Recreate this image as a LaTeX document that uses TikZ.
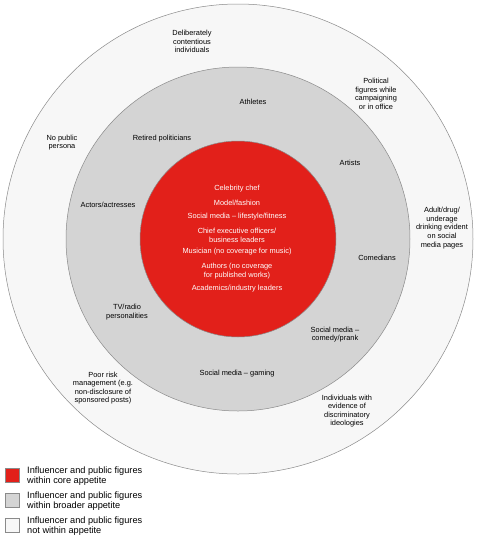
\documentclass[tikz,border=0pt]{standalone}
\usepackage{fontspec}
\setmainfont{Liberation Sans}
\definecolor{corered}{HTML}{E2201A}
\definecolor{broadgrey}{HTML}{D4D4D4}
\definecolor{outerwhite}{HTML}{F7F7F7}
\definecolor{ringline}{HTML}{8A8A8A}
\begin{document}
\begin{tikzpicture}[x=1pt,y=-1pt,
  ring/.style={draw=ringline,line width=0.5pt},
  lab/.style={align=center,font=\fontsize{7.4}{8.6}\selectfont,inner sep=0pt},
  corelab/.style={lab,text=white},
  keybox/.style={draw=ringline,line width=0.5pt,minimum size=14pt,inner sep=0pt},
  keytext/.style={align=left,anchor=west,font=\fontsize{9.2}{10.2}\selectfont,inner sep=0pt}]
  \useasboundingbox (0,0) rectangle (479,539);
  \coordinate (centre) at (238,239);
  % three appetite rings
  \filldraw[ring,fill=outerwhite] (centre) circle[radius=235];
  \filldraw[ring,fill=broadgrey] (centre) circle[radius=172];
  \filldraw[ring,fill=corered] (centre) circle[radius=98];
  % core appetite
  \node[corelab] (chef) at (237,189) {Celebrity chef};
  \node[corelab] (model) at (237,203) {Model/fashion};
  \node[corelab] (lifestyle) at (237,217) {Social media -- lifestyle/fitness};
  \node[corelab] (ceo) at (237,235.5) {Chief executive officers/\\business leaders};
  \node[corelab] (musician) at (237,252) {Musician (no coverage for music)};
  \node[corelab] (authors) at (237,271) {Authors (no coverage\\for published works)};
  \node[corelab] (academics) at (237,289) {Academics/industry leaders};
  % broader appetite
  \node[lab] (athletes) at (253,102) {Athletes};
  \node[lab] (retired) at (162,139) {Retired politicians};
  \node[lab] (artists) at (350,163) {Artists};
  \node[lab] (actors) at (108,205) {Actors/actresses};
  \node[lab] (comedians) at (377,258) {Comedians};
  \node[lab] (tvradio) at (127,312) {TV/radio\\personalities};
  \node[lab] (prank) at (335,334.5) {Social media --\\comedy/prank};
  \node[lab] (gaming) at (237,374) {Social media -- gaming};
  % not within appetite
  \node[lab] (contentious) at (192,41.5) {Deliberately\\contentious\\individuals};
  \node[lab] (political) at (376,94) {Political\\figures while\\campaigning\\or in office};
  \node[lab] (persona) at (62,142.5) {No public\\persona};
  \node[lab] (drinking) at (442,228) {Adult/drug/\\underage\\drinking evident\\on social\\media pages};
  \node[lab] (risk) at (103,388) {Poor risk\\management (e.g.\\non-disclosure of\\sponsored posts)};
  \node[lab] (ideologies) at (347,411) {Individuals with\\evidence of\\discriminatory\\ideologies};
  % legend
  \node[keybox,fill=corered] (keycore) at (12,475.5) {};
  \node[keybox,fill=broadgrey] (keybroad) at (12,500.5) {};
  \node[keybox,fill=outerwhite] (keynot) at (12,525.5) {};
  \node[keytext] at (27,476) {Influencer and public figures\\within core appetite};
  \node[keytext] at (27,501) {Influencer and public figures\\within broader appetite};
  \node[keytext] at (27,526) {Influencer and public figures\\not within appetite};
\end{tikzpicture}
\end{document}
